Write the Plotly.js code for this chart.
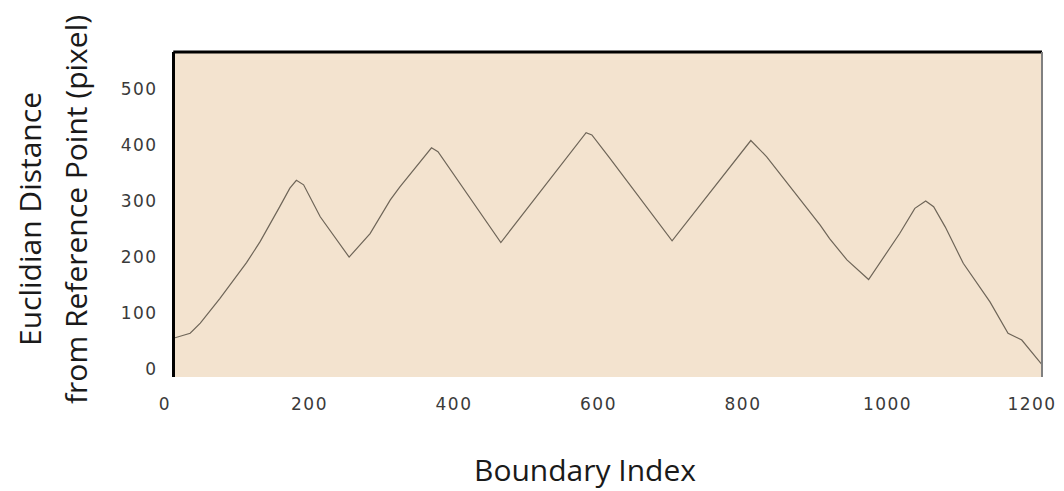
<!DOCTYPE html>
<html>
<head>
<meta charset="utf-8">
<script src="https://cdn.plot.ly/plotly-3.0.1.min.js"></script>
<style>
  html, body { margin: 0; padding: 0; background: #ffffff; }
  #chart { width: 1064px; height: 491px; }
  .xtick text, .ytick text { letter-spacing: 1.5px; }
</style>
</head>
<body>
<div id="chart"></div>
<script>
// Values
const boundaryIndex = [0, 21, 35, 62, 99, 118, 145, 159, 168, 178, 201, 241, 270, 298, 311, 355, 364, 451, 569, 577, 602, 616, 688, 797, 819, 893, 906, 930, 960, 1003, 1024, 1039, 1050, 1066, 1091, 1128, 1153, 1172, 1200];
const distance      = [56, 64, 82, 126, 190, 228, 290, 323, 337, 329, 272, 200, 242, 302, 325, 395, 388, 226, 422, 418, 376, 352, 229, 408, 379, 257, 233, 195, 160, 242, 287, 300, 290, 254, 189, 120, 64, 52, 8];

const xTickValues = [0, 200, 400, 600, 800, 1000, 1200];
const yTickValues = [0, 100, 200, 300, 400, 500];

const xTitle = 'Boundary Index';
const yTitleLine1 = 'Euclidian Distance';
const yTitleLine2 = 'from Reference Point (pixel)';

const L = 175, R = 22, T = 52, B = 114;
const plotW = 1064 - L - R, plotH = 491 - T - B;
const px = (x) => (x - L) / plotW;          // pixel x -> paper x
const py = (y) => (491 - B - y) / plotH;     // pixel y -> paper y

const trace = {
  x: boundaryIndex,
  y: distance,
  type: 'scatter',
  mode: 'lines',
  line: { color: '#6e6558', width: 1.2 },
  hoverinfo: 'x+y'
};

const titleFont = { family: 'Open Sans, sans-serif', size: 30, color: '#1a1a1a' };
const tickFont = { family: 'DejaVu Sans, sans-serif', size: 17, color: '#3a3a3a' };

const layout = {
  width: 1064,
  height: 491,
  margin: { l: L, r: R, t: T, b: B, pad: 0 },
  paper_bgcolor: '#ffffff',
  plot_bgcolor: '#f3e3cf',
  showlegend: false,
  xaxis: {
    range: [0, 1200],
    tickvals: xTickValues,
    ticktext: xTickValues.map(String),
    showgrid: false,
    zeroline: false,
    showline: false,
    ticks: '',
    ticklabelstandoff: 15,
    ticklabelshift: -10,
    ticklabeloverflow: 'allow',
    tickfont: tickFont,
    fixedrange: true
  },
  yaxis: {
    range: [-14, 566],
    tickvals: yTickValues,
    ticktext: yTickValues.map(String),
    showgrid: false,
    zeroline: false,
    showline: true,
    linecolor: '#000000',
    linewidth: 3,
    ticks: '',
    ticklabelstandoff: 11,
    ticklabeloverflow: 'allow',
    tickfont: tickFont,
    fixedrange: true
  },
  shapes: [
    { type: 'line', xref: 'paper', yref: 'paper', x0: -0.002, x1: 1, y0: 1, y1: 1,
      line: { color: '#000000', width: 3 } },
    { type: 'line', xref: 'paper', yref: 'paper', x0: 1, x1: 1, y0: 0, y1: 1,
      line: { color: '#808080', width: 2 } }
  ],
  annotations: [
    { text: xTitle, xref: 'paper', yref: 'paper', x: px(585), y: py(469),
      xanchor: 'center', yanchor: 'middle', showarrow: false, font: titleFont },
    { text: yTitleLine1, xref: 'paper', yref: 'paper', x: px(29), y: py(219),
      xanchor: 'center', yanchor: 'middle', textangle: -90, showarrow: false, font: titleFont },
    { text: yTitleLine2, xref: 'paper', yref: 'paper', x: px(75), y: py(210),
      xanchor: 'center', yanchor: 'middle', textangle: -90, showarrow: false, font: titleFont }
  ]
};

Plotly.newPlot('chart', [trace], layout, { displayModeBar: false, staticPlot: true });
</script>
</body>
</html>
